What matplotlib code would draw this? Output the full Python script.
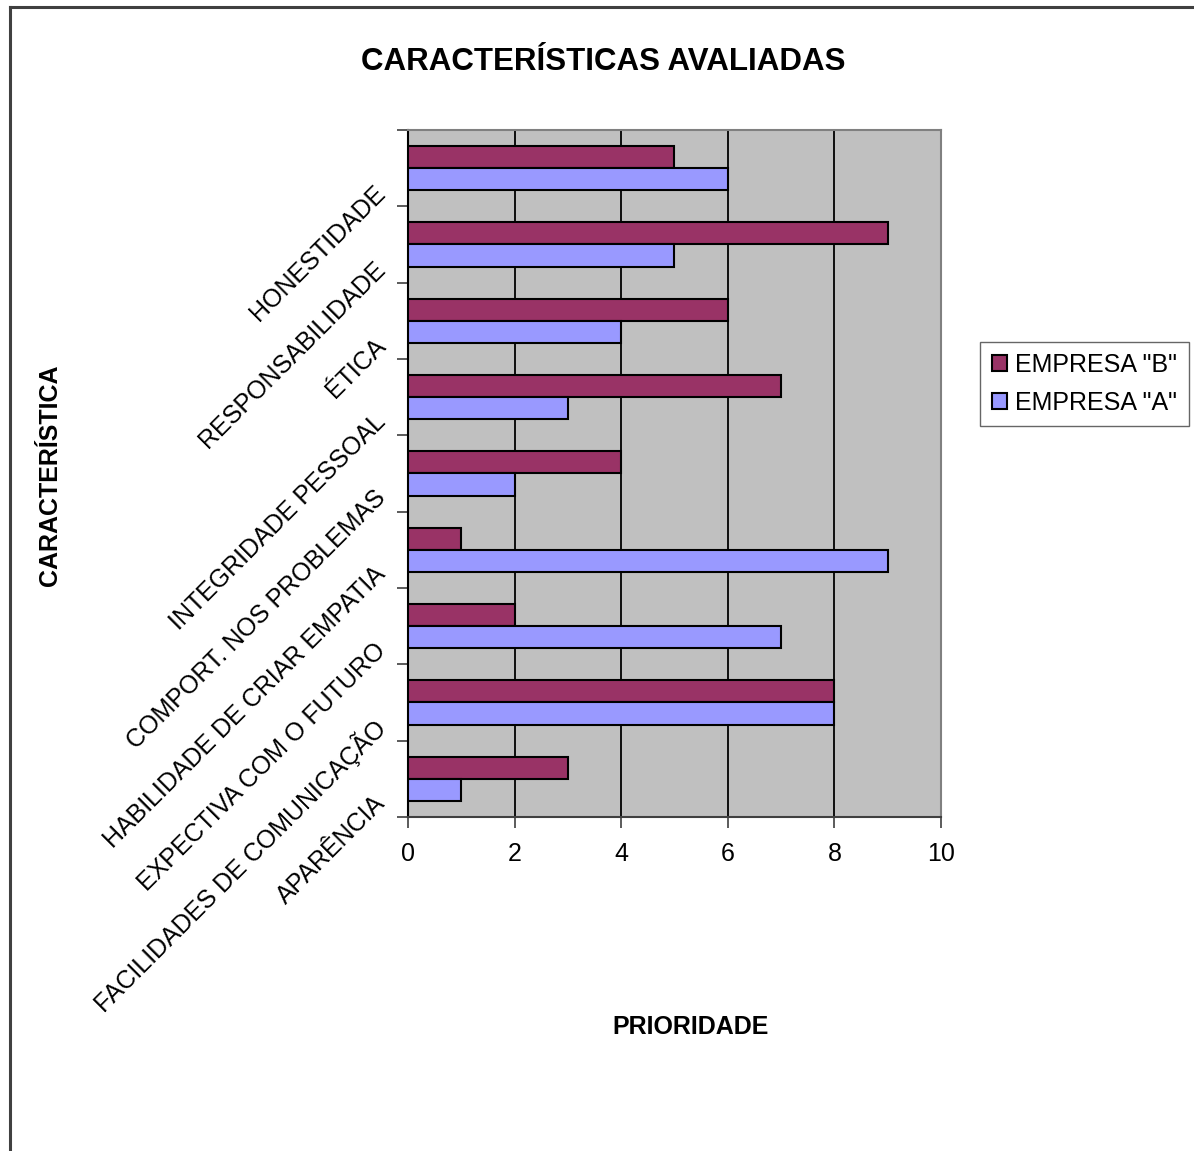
import matplotlib
matplotlib.use("Agg")
import matplotlib.pyplot as plt
import matplotlib.transforms as mtransforms
from matplotlib.lines import Line2D
import numpy as np

plt.rcParams["font.family"] = ["Liberation Sans", "DejaVu Sans"]

categorias = [
    "HONESTIDADE",
    "RESPONSABILIDADE",
    "ÉTICA",
    "INTEGRIDADE PESSOAL",
    "COMPORT. NOS PROBLEMAS",
    "HABILIDADE DE CRIAR EMPATIA",
    "EXPECTIVA COM O FUTURO",
    "FACILIDADES DE COMUNICAÇÃO",
    "APARÊNCIA",
]
empresa_b = [5, 9, 6, 7, 4, 1, 2, 8, 3]
empresa_a = [6, 5, 4, 3, 2, 9, 7, 8, 1]
xticks = [0, 2, 4, 6, 8, 10]

COR_B = "#993366"
COR_A = "#9999FF"

fig = plt.figure(figsize=(11.94, 11.51), dpi=100)
ax = fig.add_axes([0.3417, 0.2902, 0.4464, 0.5969])
ax.set_facecolor("#C0C0C0")

n = len(categorias)
pos = np.arange(n)
h = 0.29
ax.barh(pos + 0.5 - h / 2, empresa_b, height=h, color=COR_B, edgecolor="black",
        linewidth=1.5, label='EMPRESA "B"', zorder=3)
ax.barh(pos + 0.5 + h / 2, empresa_a, height=h, color=COR_A, edgecolor="black",
        linewidth=1.5, label='EMPRESA "A"', zorder=3)

ax.set_xlim(0, 10)
ax.set_ylim(n, 0)
ax.set_xticks(xticks)
ax.set_xticklabels([str(v) for v in xticks], fontsize=18)
ax.tick_params(axis="x", direction="out", length=8, width=1.2, color="#404040", pad=10)
for x in xticks[1:-1]:
    ax.axvline(x, color="black", linewidth=1.3, zorder=1)

# categorias: marcas nos limites, rótulos inclinados
ax.set_yticks(np.arange(n + 1), minor=True)
ax.set_yticks(pos + 0.5)
ax.set_yticklabels(categorias, fontsize=18, rotation=45, ha="right", va="center",
                   rotation_mode="anchor")
ax.tick_params(axis="y", which="major", length=0, pad=19)
ax.tick_params(axis="y", which="minor", direction="out", length=8, width=1.2, color="#404040")
off = mtransforms.ScaledTranslation(0, -0.21, fig.dpi_scale_trans)
for lbl in ax.get_yticklabels():
    lbl.set_transform(lbl.get_transform() + off)

ax.spines["top"].set_color("#808080")
ax.spines["right"].set_color("#808080")
ax.spines["left"].set_color("black")
ax.spines["bottom"].set_color("#404040")
for s in ax.spines.values():
    s.set_linewidth(1.5)

fig.text(0.505, 0.946, "CARACTERÍSTICAS AVALIADAS", fontsize=22.5, fontweight="bold",
         ha="center", va="center")
fig.text(0.042, 0.587, "CARACTERÍSTICA", fontsize=18, fontweight="bold",
         rotation=90, ha="center", va="center")
fig.text(0.578, 0.108, "PRIORIDADE", fontsize=18, fontweight="bold",
         ha="center", va="center")

leg = fig.legend(loc="upper left", bbox_to_anchor=(0.821, 0.703), fontsize=18,
                 frameon=True, fancybox=False, edgecolor="#404040", handlelength=0.6,
                 handleheight=0.6, handletextpad=0.35, borderpad=0.45, labelspacing=0.55,
                 borderaxespad=0)
leg.get_frame().set_linewidth(1.0)

# borda da área do gráfico (só esquerda e topo visíveis no recorte)
fig.add_artist(Line2D([0.008, 0.008], [0, 0.994], transform=fig.transFigure,
                      color="#404040", linewidth=2.2))
fig.add_artist(Line2D([0.008, 1.0], [0.994, 0.994], transform=fig.transFigure,
                      color="#404040", linewidth=2.2))

fig.savefig("out.png", dpi=100)
